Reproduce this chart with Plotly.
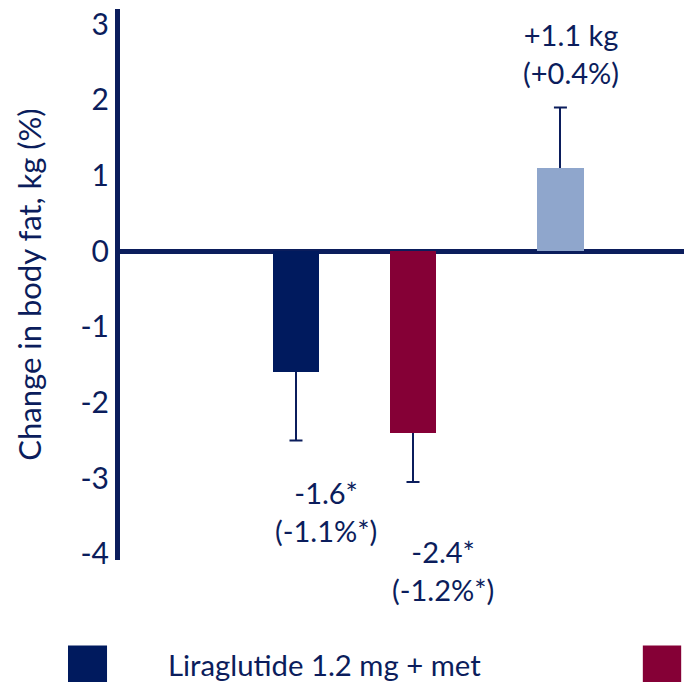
import plotly.graph_objects as go

# Change in body fat by treatment arm
arms = ["Liraglutide 1.2 mg + met", "Liraglutide 1.8 mg + met", "Glimepiride + met"]
change_kg = [-1.6, -2.4, 1.1]
err_minus = [0.9, 0.65, 0.0]
err_plus = [0.0, 0.0, 0.8]
value_labels = ["-1.6*<br>(-1.1%*)", "-2.4*<br>(-1.2%*)", "+1.1 kg<br>(+0.4%)"]
y_ticks = [3, 2, 1, 0, -1, -2, -3, -4]

# layout: slot of each bar along the x axis, and colours
bar_slots = [1.0, 2.0, 3.26]
colors = ["#001A5E", "#850036", "#8FA6CC"]
navy = "#0B1D5C"
font_family = "Lato, 'Open Sans', sans-serif"

fig = go.Figure()

# bars with one-sided whiskers (no caps here)
for i in range(len(arms)):
    fig.add_trace(go.Bar(
        x=[bar_slots[i]], y=[change_kg[i]], width=0.40,
        marker=dict(color=colors[i], line=dict(width=0)),
        error_y=dict(type="data", symmetric=False,
                     array=[err_plus[i]], arrayminus=[err_minus[i]],
                     color=navy, thickness=2, width=0),
        name=arms[i], showlegend=False, hoverinfo="skip",
    ))

# caps at the outer end of each whisker
whisker_end = [change_kg[i] + (err_plus[i] if change_kg[i] > 0 else -err_minus[i])
               for i in range(len(arms))]
fig.add_trace(go.Scatter(
    x=bar_slots, y=whisker_end, mode="markers",
    marker=dict(size=1, opacity=0),
    error_y=dict(type="data", array=[0] * len(arms), color=navy, thickness=2, width=6.5),
    showlegend=False, hoverinfo="skip",
))

# value labels beside each whisker end
label_shift = [(30, -33), (30, -50), (11, 15)]
for i in range(len(arms)):
    fig.add_annotation(
        x=bar_slots[i], y=whisker_end[i], text=value_labels[i], showarrow=False,
        xanchor="center", yanchor="bottom" if change_kg[i] > 0 else "top",
        xshift=label_shift[i][0], yshift=label_shift[i][1],
        font=dict(size=29, color=navy, family=font_family),
    )

# legend row (first entry, second swatch at the page edge)
fig.add_shape(type="rect", xref="paper", yref="paper",
              x0=-0.0922, x1=-0.0230, y0=-0.155, y1=-0.23,
              fillcolor=colors[0], line=dict(width=0))
fig.add_annotation(xref="paper", yref="paper", x=0.081, y=-0.19,
                   text=arms[0], showarrow=False, xanchor="left", yanchor="middle",
                   font=dict(size=29.3, color=navy, family=font_family))
fig.add_shape(type="rect", xref="paper", yref="paper",
              x0=0.927, x1=0.995, y0=-0.155, y1=-0.23,
              fillcolor=colors[1], line=dict(width=0))

fig.update_layout(
    width=684, height=682,
    margin=dict(l=120, r=0, t=9, b=122),
    paper_bgcolor="white", plot_bgcolor="white",
    barmode="overlay", bargap=0,
    font=dict(family=font_family, color=navy),
    xaxis=dict(range=[-0.504, 4.316], showgrid=False, zeroline=False,
               showticklabels=False, ticks="", showline=False, fixedrange=True),
    yaxis=dict(range=[-4.08, 3.2], tickvals=y_ticks, ticktext=[str(t) for t in y_ticks],
               showgrid=False, zeroline=True, zerolinecolor=navy, zerolinewidth=5,
               showline=True, linecolor=navy, linewidth=5, ticks="",
               tickfont=dict(size=30, color=navy, family=font_family),
               title=dict(text="Change in body fat, kg (%)", standoff=31,
                          font=dict(size=31, color=navy, family=font_family)),
               fixedrange=True),
)

fig.write_html("out.html")
